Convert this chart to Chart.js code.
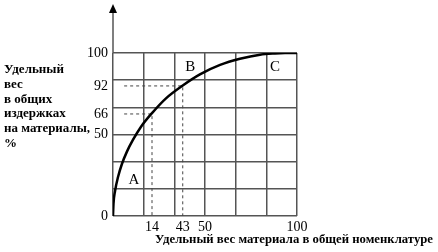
<!DOCTYPE html>
<html>
<head>
<meta charset="utf-8">
<script src="https://cdn.jsdelivr.net/npm/chart.js@4/dist/chart.umd.min.js"></script>
<style>
  body { margin: 0; background: #fff; }
  #wrap { width: 438px; height: 252px; }
</style>
</head>
<body>
<div id="wrap"><canvas id="abc" width="438" height="252"></canvas></div>
<script>
// кривая ABC (в единицах подписей осей)
const curveX = [0, 0.18, 0.72, 1.8, 3.2, 5.0, 7.2, 10.0, 14, 27.2, 43, 48.4, 58.2, 69, 79.9, 88, 93.5, 100];
const curveY = [0, 7.6, 15.2, 23.9, 31.9, 39.5, 46.8, 55.9, 66.8, 80.5, 92.1, 94.8, 97.1, 98.6, 99.6, 99.9, 100, 100];

const xTicks = [14, 43, 50, 100];
const yTicks = [0, 50, 66, 92, 100];

// пунктирные выноски к точкам кривой
const guideX = [14, 43];
const guideY = [66, 92];

const zoneNames = ['A', 'B', 'C'];
const zoneX = [7.5, 45.4, 88];
const zoneY = [22, 96.7, 96.7];

const yTitle = ['Удельный', 'вес', 'в общих', 'издержках', 'на материалы,', '%'];
const xTitle = 'Удельный вес материала в общей номенклатуре';

// схема не в масштабе: где стоят подписи на сетке (доля длины оси)
const xWarp = { vals: [0, 14, 43, 50, 100], pos: [0, 0.212, 0.379, 0.5, 1] };
const yWarp = { vals: [0, 50, 66, 92, 100], pos: [0, 0.5, 0.626, 0.798, 1] };

function interp(v, vals, pos) {
  for (let i = 1; i < vals.length; i++) {
    if (v <= vals[i]) {
      const t = (v - vals[i - 1]) / (vals[i] - vals[i - 1]);
      return pos[i - 1] + t * (pos[i] - pos[i - 1]);
    }
  }
  return pos[pos.length - 1];
}

class WarpScale extends Chart.LinearScale {
  getPixelForValue(v) {
    const w = this.options.warp;
    return this.getPixelForDecimal(interp(v, w.vals, w.pos));
  }
}
WarpScale.id = 'warp';
WarpScale.defaults = Chart.LinearScale.defaults;
Chart.register(WarpScale);

const SERIF = '"Liberation Serif", "Times New Roman", serif';
const GRID = '#555';

const curve = curveX.map((x, i) => ({ x: x, y: curveY[i] }));
const guides = guideX.map((x, i) => ({
  data: [{ x: 4, y: guideY[i] }, { x: x, y: guideY[i] }, { x: x, y: 0 }],
  borderColor: '#444',
  borderWidth: 1,
  borderDash: [3, 3],
  pointRadius: 0,
  tension: 0
}));

const extras = {
  id: 'extras',
  afterDraw(chart) {
    const ctx = chart.ctx;
    const area = chart.chartArea;
    const sx = chart.scales.x, sy = chart.scales.y;
    ctx.save();
    // ось Y со стрелкой
    ctx.strokeStyle = GRID;
    ctx.lineWidth = 1.5;
    ctx.beginPath();
    ctx.moveTo(area.left, area.top);
    ctx.lineTo(area.left, 10);
    ctx.stroke();
    ctx.fillStyle = '#000';
    ctx.beginPath();
    ctx.moveTo(area.left, 4);
    ctx.lineTo(area.left - 4, 13);
    ctx.lineTo(area.left + 4, 13);
    ctx.closePath();
    ctx.fill();

    // зоны
    ctx.font = '15px ' + SERIF;
    ctx.textAlign = 'center';
    ctx.textBaseline = 'middle';
    zoneNames.forEach((n, i) => {
      ctx.fillText(n, sx.getPixelForValue(zoneX[i]), sy.getPixelForValue(zoneY[i]));
    });

    // подписи осей
    ctx.font = 'bold 13px ' + SERIF;
    ctx.textAlign = 'left';
    yTitle.forEach((t, i) => ctx.fillText(t, 4, 70 + i * 14.7, 86));
    ctx.textAlign = 'center';
    ctx.fillText(xTitle, 294, 240, 278);
    ctx.restore();
  }
};

new Chart(document.getElementById('abc'), {
  type: 'line',
  data: {
    datasets: [{
      data: curve,
      borderColor: '#000',
      borderWidth: 2.5,
      pointRadius: 0,
      cubicInterpolationMode: 'monotone'
    }, ...guides]
  },
  options: {
    responsive: false,
    animation: false,
    events: [],
    layout: { padding: { left: 0, top: 53, right: 141, bottom: 0 } },
    plugins: { legend: { display: false }, tooltip: { enabled: false } },
    scales: {
      x: {
        type: 'warp', warp: xWarp, position: 'bottom', min: 0, max: 100,
        afterBuildTicks: s => { s.ticks = xTicks.map(v => ({ value: v })); },
        afterFit: s => { s.height = 36; },
        grid: { display: false, drawTicks: false }, border: { display: false },
        ticks: { color: '#000', padding: 3, maxRotation: 0, autoSkip: false, font: { family: SERIF, size: 14 } }
      },
      y: {
        type: 'warp', warp: yWarp, position: 'left', min: 0, max: 100,
        afterBuildTicks: s => { s.ticks = yTicks.map(v => ({ value: v })); },
        afterFit: s => { s.width = 113; },
        grid: { display: false, drawTicks: false }, border: { display: false },
        ticks: { color: '#000', padding: 5, autoSkip: false, font: { family: SERIF, size: 14 } }
      },
      xg: {
        type: 'linear', position: 'bottom', min: 0, max: 6,
        afterFit: s => { s.height = 0; },
        ticks: { display: false, stepSize: 1 },
        border: { display: false },
        grid: { color: GRID, lineWidth: 1.5, drawTicks: false }
      },
      yg: {
        type: 'linear', position: 'left', min: 0, max: 6,
        afterFit: s => { s.width = 0; },
        ticks: { display: false, stepSize: 1 },
        border: { display: false },
        grid: { color: GRID, lineWidth: 1.5, drawTicks: false }
      }
    }
  },
  plugins: [extras]
});
</script>
</body>
</html>
